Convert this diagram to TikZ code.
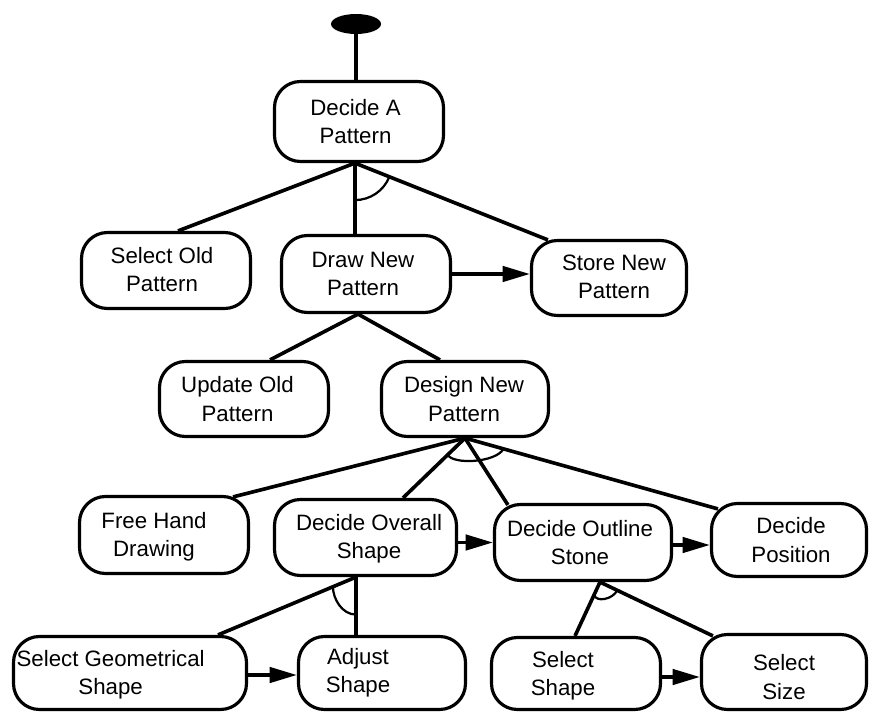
\documentclass[tikz,border=0pt]{standalone}
\usepackage{fontspec}
\setmainfont{Liberation Sans}
\usetikzlibrary{calc,arrows.meta,shapes.geometric}
\begin{document}
\begin{tikzpicture}[x=0.03cm,y=-0.03cm,
  box/.style={draw, line width=2.7pt, rounded corners=0.78cm, inner sep=0pt},
  txt/.style={align=center, font=\fontsize{19}{24}\selectfont, inner sep=0pt},
  link/.style={line width=3.1pt},
  flow/.style={line width=3.1pt, -{Triangle[length=0.82cm,width=0.46cm]}},
  andarc/.style={line width=1.9pt},
]
% page area
\fill[white] (0,0) rectangle (872,712);
\useasboundingbox (0,0) rectangle (872,712);

% start marker
\node[ellipse, fill=black, inner sep=0pt, minimum width=1.5cm, minimum height=0.6cm] (start) at (356,24) {};

% activity boxes
\node[box, minimum width=5.07cm, minimum height=2.4cm,
  label={[txt,xshift=-0.105cm]center:Decide A\\Pattern}] (dap) at (359,121.5) {};
\node[box, minimum width=5.07cm, minimum height=2.28cm,
  label={[txt,xshift=-0.12cm,yshift=0.03cm]center:Select Old\\Pattern}] (sop) at (166,270.5) {};
\node[box, minimum width=5.07cm, minimum height=2.31cm,
  label={[txt,xshift=-0.09cm]center:Draw New\\Pattern}] (dnp) at (366,274) {};
\node[box, minimum width=4.65cm, minimum height=2.25cm,
  label={[txt,xshift=0.15cm,yshift=0.045cm]center:Store New\\Pattern}] (snp) at (609,278) {};
\node[box, minimum width=5.07cm, minimum height=2.25cm,
  label={[txt,xshift=-0.195cm]center:Update Old\\Pattern}] (uop) at (244,399) {};
\node[box, minimum width=5.01cm, minimum height=2.25cm,
  label={[txt,xshift=-0.03cm]center:Design New\\Pattern}] (dsn) at (465,399) {};
\node[box, minimum width=5.07cm, minimum height=2.31cm,
  label={[txt,xshift=-0.3cm,yshift=-0.045cm]center:Free Hand\\Drawing}] (fhd) at (164,535) {};
\node[box, minimum width=5.46cm, minimum height=2.28cm,
  label={[txt,xshift=0.105cm,yshift=-0.03cm]center:Decide Overall\\Shape}] (dos) at (365.5,537.5) {};
\node[box, minimum width=5.31cm, minimum height=2.28cm,
  label={[txt,xshift=-0.09cm]center:Decide Outline\\Stone}] (dol) at (583,542.5) {};
\node[box, minimum width=4.65cm, minimum height=2.19cm,
  label={[txt,xshift=0.06cm]center:Decide\\Position}] (dp) at (789,540) {};
\node[box, minimum width=6.99cm, minimum height=2.19cm,
  label={[txt,xshift=-0.58cm,yshift=-0.06cm]center:Select Geometrical\\Shape}] (sgs) at (130,673) {};
\node[box, minimum width=5.01cm, minimum height=2.19cm,
  label={[txt,xshift=-0.72cm]center:Adjust\\Shape}] (as) at (382,673) {};
\node[box, minimum width=5.07cm, minimum height=2.16cm,
  label={[txt,xshift=-0.39cm,yshift=-0.075cm]center:Select\\Shape}] (ss) at (576,673.5) {};
\node[box, minimum width=4.95cm, minimum height=2.25cm,
  label={[txt,yshift=-0.15cm]center:Select\\Size}] (sz) at (784,672) {};

% branch points under the parent boxes
\coordinate (j1) at ($(dap.south)+(-4,0)$);
\coordinate (j2) at ($(dnp.south)+(-8,0)$);
\coordinate (j3) at (dsn.south);
\coordinate (j4) at ($(dos.south)+(-9.5,0)$);
\coordinate (j5) at ($(dol.south)+(17,0)$);

% where the branches meet the child boxes
\coordinate (sopT) at ($(sop.north)+(12,0)$);
\coordinate (snpT) at ($(snp.north west)+(18,1)$);
\coordinate (uopT) at ($(uop.north)+(26,0)$);
\coordinate (dsnT) at ($(dsn.north)+(-25,0)$);
\coordinate (fhdT) at ($(fhd.north east)+(-17,2)$);
\coordinate (dosT) at ($(dos.north)+(37.5,0)$);
\coordinate (dolT) at ($(dol.north west)+(15,2)$);
\coordinate (dpT)  at ($(dp.north west)+(8,7)$);
\coordinate (sgsT) at ($(sgs.north)+(88,0)$);
\coordinate (ssT)  at ($(ss.north)+(-1,0)$);
\coordinate (szT)  at ($(sz.north west)+(13,3)$);

% decomposition links
\draw[link] (start.south) -- (start.south |- dap.north);
\draw[link] (j1) -- (sopT);
\draw[link] (j1) -- (j1 |- dnp.north);
\draw[link] (j1) -- (snpT);
\draw[link] (j2) -- (uopT);
\draw[link] (j2) -- (dsnT);
\draw[link] (j3) -- (fhdT);
\draw[link] (j3) -- (dosT);
\draw[link] (j3) -- (dolT);
\draw[link] (j3) -- (dpT);
\draw[link] (j4) -- (sgsT);
\draw[link] (j4) -- (j4 |- as.north);
\draw[link] (j5) -- (ssT);
\draw[link] (j5) -- (szT);

% AND arcs across grouped branches
\draw[andarc] ($(j1)+(0,37)$) arc[start angle=-90, end angle=-22, radius=1.11cm];
\draw[andarc] ($(j3)!0.72cm!(dosT)$) .. controls +(5,10) and +(-8,14) .. ($(j3)!1.2cm!(dpT)$);
\draw[andarc] ($(j4)!0.75cm!(sgsT)$) .. controls +(0,12) and +(-14,0) .. ($(j4)+(0,37.5)$);
\draw[andarc] ($(j5)!0.42cm!(ssT)$) .. controls +(2,8) and +(-4,9) .. ($(j5)!0.57cm!(szT)$);

% sequence arrows
\coordinate (a1) at (dnp.east);
\coordinate (a2) at ($(dos.east)+(0,5)$);
\coordinate (a3) at ($(dol.east)+(0,2.5)$);
\coordinate (a4) at ($(sgs.east)+(0,2)$);
\coordinate (a5) at ($(ss.east)+(0,3.5)$);
\draw[flow] (a1) -- (a1 -| snp.west);
\draw[flow] (a2) -- (a2 -| dol.west);
\draw[flow] (a3) -- (a3 -| dp.west);
\draw[flow] (a4) -- (a4 -| as.west);
\draw[flow] (a5) -- (a5 -| sz.west);
\end{tikzpicture}
\end{document}
